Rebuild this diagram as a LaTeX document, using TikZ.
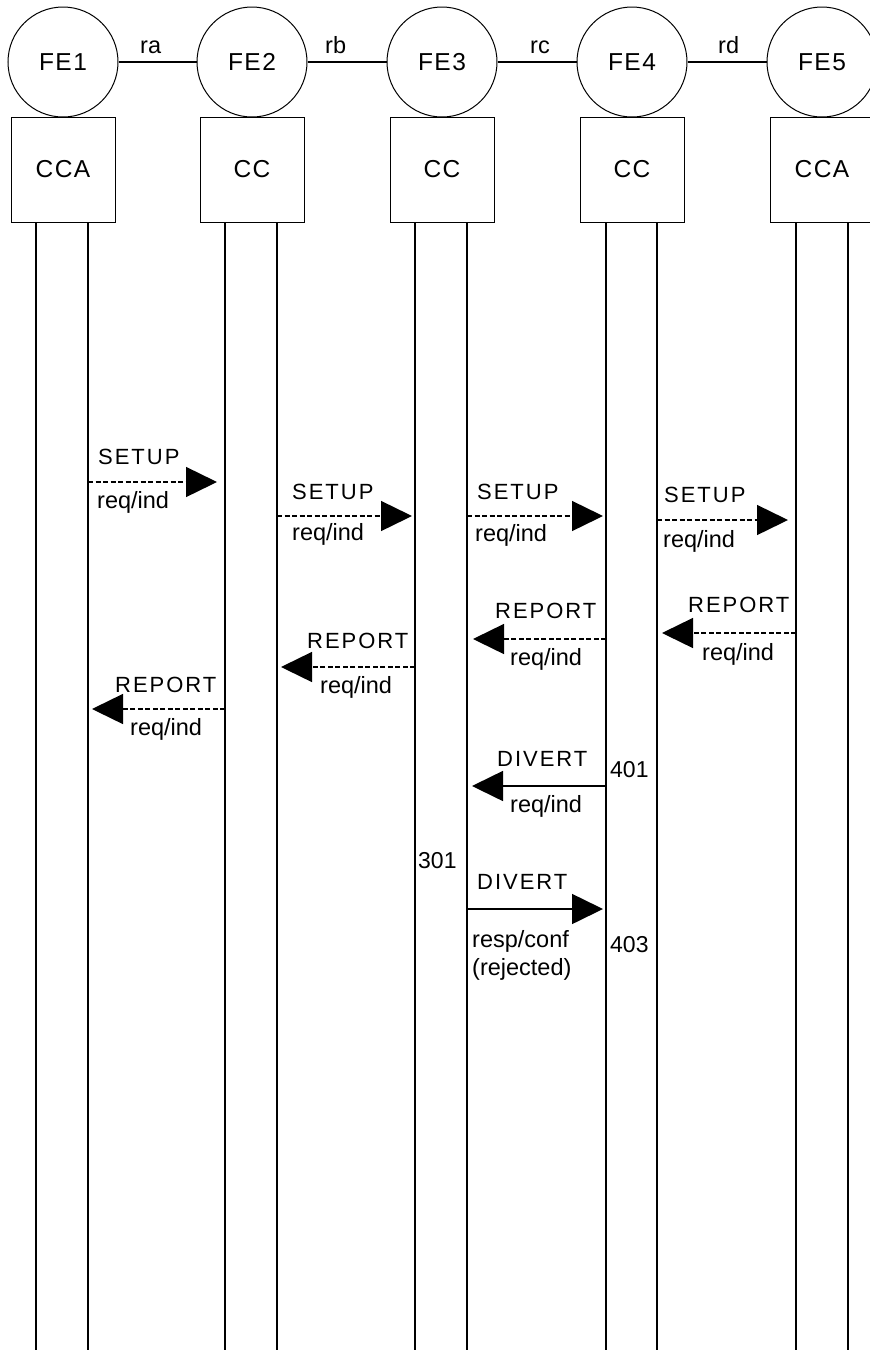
\documentclass[tikz,border=0pt]{standalone}
\usepackage{fontspec}
\setmainfont{Liberation Sans}
\newfontfamily\trackedcaps[LetterSpace=9]{Liberation Sans}
\newfontfamily\trackedfe[LetterSpace=6]{Liberation Sans}
\newcommand\felabel{\trackedfe\fontsize{24.5}{28}\selectfont}
\newcommand\capslabel{\trackedcaps\fontsize{22}{25}\selectfont}
\newcommand\lowerlabel{\fontsize{23.5}{28}\selectfont}
\newcommand\numlabel{\fontsize{23}{28}\selectfont}
\usetikzlibrary{arrows.meta}
\tikzset{
  fe/.style={circle, draw, line width=1pt, minimum size=110pt, inner sep=0pt, font=\felabel},
  ccbox/.style={rectangle, draw, line width=1pt, minimum width=104pt, minimum height=105pt, inner sep=0pt, font=\felabel},
  life/.style={line width=2pt},
  link/.style={line width=1.6pt},
  msg/.style={line width=1.4pt, dash pattern=on 5pt off 2.5pt, -{Triangle[length=31pt,width=30pt]}},
  msgsolid/.style={line width=1.6pt, -{Triangle[length=31pt,width=30pt]}},
  lbl/.style={anchor=base west, inner sep=0pt, font=\lowerlabel},
  caplbl/.style={anchor=base west, inner sep=0pt, font=\capslabel},
  numlbl/.style={anchor=base west, inner sep=0pt, font=\numlabel},
}
\begin{document}
\begin{tikzpicture}[x=1pt,y=-1pt]
\useasboundingbox (0,0) rectangle (870,1350);
\clip (0,0) rectangle (870,1350);

% functional entities
\node[fe] (fe1) at (63,62) {FE1};
\node[fe] (fe2) at (252,62) {FE2};
\node[fe] (fe3) at (442,62) {FE3};
\node[fe] (fe4) at (632,62) {FE4};
\node[fe] (fe5) at (822,62) {FE5};

% relationships between entities
\draw[link] (fe1) -- (fe2);
\draw[link] (fe2) -- (fe3);
\draw[link] (fe3) -- (fe4);
\draw[link] (fe4) -- (fe5);
\node[lbl] (ra) at (140,53) {ra};
\node[lbl] (rb) at (325,53) {rb};
\node[lbl] (rc) at (530,53) {rc};
\node[lbl] (rd) at (718,53) {rd};

% call control boxes
\node[ccbox] (cc1) at (63,169.5) {CCA};
\node[ccbox] (cc2) at (252,169.5) {CC};
\node[ccbox] (cc3) at (442,169.5) {CC};
\node[ccbox] (cc4) at (632,169.5) {CC};
\node[ccbox] (cc5) at (822,169.5) {CCA};

% lifelines
\foreach \n/\xa/\xb in {1/36/88, 2/225/277, 3/415/467, 4/606/657, 5/796/848}{
  \coordinate (L\n a) at (\xa,222);
  \coordinate (L\n b) at (\xb,222);
  \coordinate (E\n a) at (\xa,1350);
  \coordinate (E\n b) at (\xb,1350);
  \draw[life] (L\n a) -- (E\n a);
  \draw[life] (L\n b) -- (E\n b);
}

% SETUP req/ind
\coordinate (m1s) at (88,482);  \coordinate (m1e) at (217,482);
\draw[msg] (m1s) -- (m1e);
\node[caplbl] (m1t) at (98,464) {SETUP};
\node[lbl] (m1b) at (97,508) {req/ind};

\coordinate (m2s) at (277,516); \coordinate (m2e) at (412,516);
\draw[msg] (m2s) -- (m2e);
\node[caplbl] (m2t) at (292,499) {SETUP};
\node[lbl] (m2b) at (292,540) {req/ind};

\coordinate (m3s) at (467,516); \coordinate (m3e) at (603,516);
\draw[msg] (m3s) -- (m3e);
\node[caplbl] (m3t) at (477,499) {SETUP};
\node[lbl] (m3b) at (475,541) {req/ind};

\coordinate (m4s) at (657,520); \coordinate (m4e) at (788,520);
\draw[msg] (m4s) -- (m4e);
\node[caplbl] (m4t) at (664,502) {SETUP};
\node[lbl] (m4b) at (663,547) {req/ind};

% REPORT req/ind
\coordinate (m5s) at (796,633); \coordinate (m5e) at (662,633);
\draw[msg] (m5s) -- (m5e);
\node[caplbl] (m5t) at (688,612) {REPORT};
\node[lbl] (m5b) at (702,660) {req/ind};

\coordinate (m6s) at (606,639); \coordinate (m6e) at (473,639);
\draw[msg] (m6s) -- (m6e);
\node[caplbl] (m6t) at (495,618) {REPORT};
\node[lbl] (m6b) at (510,665) {req/ind};

\coordinate (m7s) at (415,667); \coordinate (m7e) at (281,667);
\draw[msg] (m7s) -- (m7e);
\node[caplbl] (m7t) at (307,648) {REPORT};
\node[lbl] (m7b) at (320,693) {req/ind};

\coordinate (m8s) at (225,709); \coordinate (m8e) at (92,709);
\draw[msg] (m8s) -- (m8e);
\node[caplbl] (m8t) at (115,692) {REPORT};
\node[lbl] (m8b) at (130,735) {req/ind};

% DIVERT req/ind
\coordinate (m9s) at (606,786); \coordinate (m9e) at (472,786);
\draw[msgsolid] (m9s) -- (m9e);
\node[caplbl] (m9t) at (497,766) {DIVERT};
\node[lbl] (m9b) at (510,812) {req/ind};
\node[numlbl] (n401) at (610,777) {401};

\node[numlbl] (n301) at (418,868) {301};

% DIVERT resp/conf (rejected)
\coordinate (m10s) at (467,909); \coordinate (m10e) at (603,909);
\draw[msgsolid] (m10s) -- (m10e);
\node[caplbl] (m10t) at (477,889) {DIVERT};
\node[lbl] (m10b) at (472,947) {resp/conf};
\node[lbl] (m10c) at (472,975) {(rejected)};
\node[numlbl] (n403) at (610,952) {403};
\end{tikzpicture}
\end{document}
